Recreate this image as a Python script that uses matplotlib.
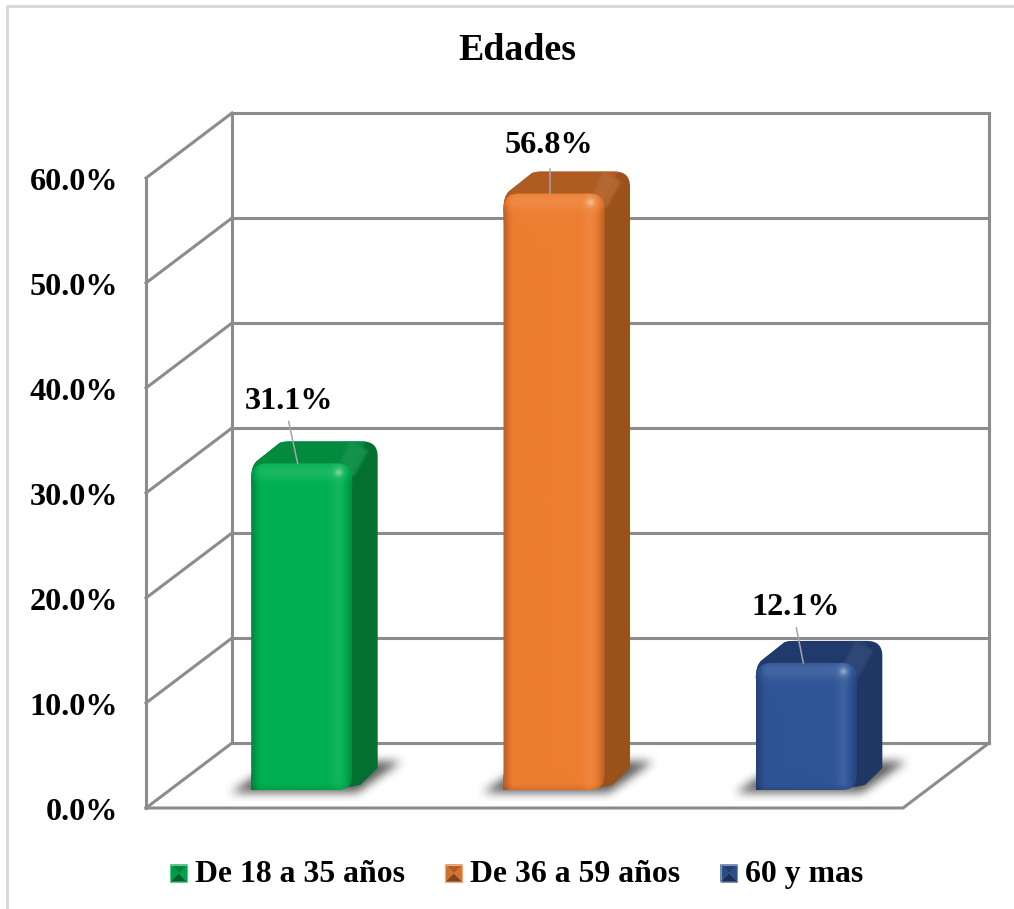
#!/usr/bin/env python3
# -*- coding: utf-8 -*-
from matplotlib import pyplot as plt
from matplotlib.legend_handler import HandlerBase
from matplotlib.lines import Line2D
from matplotlib.patches import FancyBboxPatch, PathPatch, Polygon, Rectangle
from matplotlib.path import Path
from matplotlib.transforms import ScaledTranslation
import numpy as np

title = "Edades"
categories = ["De 18 a 35 años", "De 36 a 59 años", "60 y mas"]
values = [31.1, 56.8, 12.1]
y_ticks = [0, 10, 20, 30, 40, 50, 60]
y_tick_labels = ["0.0%", "10.0%", "20.0%", "30.0%", "40.0%", "50.0%", "60.0%"]

front_cols = ["#00B050", "#ED7D31", "#2F5597"]
side_cols = ["#03702F", "#9A5219", "#1E3764"]
top_cols = ["#028A3E", "#AE5C22", "#203A6B"]

grid_col = "#8C8C8C"
leader_col = "#A6A6A6"
frame_col = "#D9D9D9"

plt.rcParams["font.family"] = ["Liberation Serif", "DejaVu Serif"]
plt.rcParams["font.weight"] = "bold"

W, H = 1014, 909
px = 1/100
PX_PER_UNIT = 10.5  # screen pixels per percentage point, both directions
CAT_STEP = 252.33/PX_PER_UNIT

# 3D box depth in data units
DEPTH_X = 86/PX_PER_UNIT
DEPTH_Y = 65/PX_PER_UNIT
# bar placement inside the box
BAR_W = 101/PX_PER_UNIT
BAR_DX = 25.5/PX_PER_UNIT
BAR_DY = 22/PX_PER_UNIT
BASE_X = 29.5/PX_PER_UNIT
BASE_Y = 18/PX_PER_UNIT
RAD = 15/PX_PER_UNIT

label_offs = [(-13, 65), (-5, 52), (-11, 59)]
leader_ends = [(-4, 21), (-4, 25), (-3, 20)]
leader_lens = [(-13, 42), (-4, 25), (-10, 35)]


def blur(img, size):
    kern = np.ones(size)/size
    for _ in range(3):
        img = np.apply_along_axis(np.convolve, 0, img, kern, mode="same")
        img = np.apply_along_axis(np.convolve, 1, img, kern, mode="same")
    return img


def lighten(col, amt):
    rgb = np.array(plt.matplotlib.colors.to_rgb(col))
    return rgb + (1 - rgb)*amt


def darken(col, amt):
    return np.array(plt.matplotlib.colors.to_rgb(col))*(1 - amt)


def soft_poly(ax, pts, ext, col, strength, size, zorder):
    # polygon with blurred edges as an RGBA image over ext
    nx = int((ext[1] - ext[0])*PX_PER_UNIT)
    ny = int((ext[3] - ext[2])*PX_PER_UNIT)
    gx, gy = np.meshgrid(np.linspace(ext[0], ext[1], nx),
                         np.linspace(ext[2], ext[3], ny))
    mask = Path(pts).contains_points(np.c_[gx.ravel(), gy.ravel()]).reshape(ny, nx)
    rgba = np.zeros((ny, nx, 4))
    rgba[..., :3] = plt.matplotlib.colors.to_rgb(col)
    rgba[..., 3] = blur(mask.astype(float), size)*strength
    img = ax.imshow(rgba, extent=ext, origin="lower", aspect="auto",
                    zorder=zorder, interpolation="bilinear")
    # images fall back to the axes box when the clip box is None
    img.set_clip_box(ax.figure.bbox)
    return img


def draw_shadow(ax, x0, y0):
    # soft contact shadow on the floor, skewed back along the box depth
    ext = (x0 - 6, x0 + BAR_W + BAR_DX + 8, y0 - 5, y0 + BAR_DY + 5)
    pts = [(x0 - 1.9, y0 - 0.3), (x0 + BAR_W + 0.5, y0 - 0.3),
           (x0 + BAR_W + BAR_DX + 2.2, y0 + BAR_DY + 0.5),
           (x0 + BAR_DX, y0 + BAR_DY + 0.5)]
    soft_poly(ax, pts, ext, "#303030", 0.78, 9, 2)


def draw_bar(ax, x0, y0, val, col_f, col_s, col_t):
    y1 = y0 + val
    x1 = x0 + BAR_W
    dx, dy = BAR_DX, BAR_DY
    r = RAD

    # silhouette of the side and top faces
    verts = [(x0, y1 - r), (x0, y1 - 0.3), (x0 + 0.5, y1 + 0.2),
             (x0 + 2.7, y1 + dy - 0.15), (x0 + 3.0, y1 + dy), (x0 + 3.6, y1 + dy),
             (x1 + dx - r, y1 + dy), (x1 + dx, y1 + dy), (x1 + dx, y1 + dy - r),
             (x1 + dx, y0 + dy), (x1 + 0.8, y0 + 0.5), (x1 - r/2, y0), (x0 + r, y0),
             (x0, y1 - r)]
    codes = [Path.MOVETO, Path.CURVE3, Path.CURVE3, Path.LINETO, Path.CURVE3,
             Path.CURVE3, Path.LINETO, Path.CURVE3, Path.CURVE3, Path.LINETO,
             Path.LINETO, Path.CURVE3, Path.CURVE3, Path.CLOSEPOLY]
    back = PathPatch(Path(verts, codes), fc=col_s, ec="none", zorder=3,
                     clip_on=False)
    ax.add_patch(back)

    # top face, clipped to the silhouette, with the lighter rounded corner
    top = Polygon([(x0 - 1, y1 - 2), (x0 - 1, y1 + dy + 1),
                   (x1 + dx - 0.6, y1 + dy + 1), (x1 - 0.3, y1 - 1)],
                  fc=col_t, ec="none", zorder=3.1)
    ax.add_patch(top)
    top.set_clip_box(None)
    top.set_clip_path(back)
    band = soft_poly(ax, [(x1 - 1.4, y1 - 0.4), (x1 + dx - 2.6, y1 + dy + 0.2),
                          (x1 + dx - 0.9, y1 + dy - 0.9), (x1 + 0.1, y1 - 1.4)],
                     (x1 - 4, x1 + dx + 2, y1 - 4, y1 + dy + 2),
                     lighten(col_t, 0.08), 0.9, 3, 3.2)
    band.set_clip_path(back)

    # front face shading: flat middle, bevelled edges, highlight on the corner
    nx, ny = 120, max(int(val*PX_PER_UNIT), 10)
    u = (np.arange(nx) + 0.5)/nx*BAR_W
    v = (np.arange(ny) + 0.5)/ny*val
    uu, vv = np.meshgrid(u, v)
    base = np.array(plt.matplotlib.colors.to_rgb(col_f))
    shade = np.zeros((ny, nx))
    shade -= 0.22*np.exp(-(uu/0.55)**2)
    shade += 0.07*np.exp(-((uu - (BAR_W - 1.4))/0.6)**2)
    shade -= 0.20*np.exp(-((uu - BAR_W)/0.6)**2)
    shade += 0.10*np.exp(-((vv - (val - 0.85))/0.75)**2)
    shade -= 0.10*np.exp(-(vv/0.35)**2)
    shade += 0.30*np.exp(-((uu - (BAR_W - 1.35))**2 + (vv - (val - 0.9))**2)/0.12)
    shade = shade[..., None]
    rgb = np.where(shade > 0, base + (1 - base)*shade, base*(1 + shade))
    im = ax.imshow(np.clip(rgb, 0, 1), extent=(x0, x1, y0, y1), origin="lower",
                   aspect="auto", zorder=4, interpolation="bilinear")
    face = FancyBboxPatch((x0, y0), BAR_W, val, ec="none", fc="none",
                          boxstyle="round,pad=0,rounding_size=%f" % r, zorder=4)
    ax.add_patch(face)
    im.set_clip_path(face)
    # square off the foot of the bar
    foot = Rectangle((x0, y0), BAR_W - r, r, fc="none", ec="none")
    ax.add_patch(foot)
    im2 = ax.imshow(np.clip(rgb, 0, 1), extent=(x0, x1, y0, y1), origin="lower",
                    aspect="auto", zorder=4, interpolation="bilinear")
    im2.set_clip_path(foot)


class BevelHandler(HandlerBase):
    # small pyramid swatch: four shaded triangles around the centre
    def create_artists(self, legend, orig, xd, yd, width, height, fontsize, trans):
        col = orig.get_facecolor()
        s = width
        x0 = 0
        y0 = -yd
        c = (x0 + s/2, y0 + s/2)
        p = [(x0, y0), (x0 + s, y0), (x0 + s, y0 + s), (x0, y0 + s)]
        amts = [darken(col, 0.45), darken(col, 0.08),
                darken(col, 0.25), darken(col, 0.12)]
        arts = []
        for i, shade in enumerate(amts):
            tri = Polygon([p[i], p[(i + 1) % 4], c], fc=shade, ec=shade, lw=0.3,
                          transform=trans)
            arts.append(tri)
        arts.append(Rectangle((x0, y0), s, s, fc="none", ec=lighten(col, 0.35),
                              lw=0.8, transform=trans))
        return arts


fig = plt.figure(figsize=(W*px, H*px), dpi=100)
# only the left and top edges of the chart frame fall inside the canvas
fig.add_artist(Line2D([7/W, 7/W, 1], [0, 1 - 6/H, 1 - 6/H], color=frame_col,
                      lw=2.2, transform=fig.transFigure))

# axes sit on the front plane of the box
ax = fig.add_axes([146/W, 1 - 808/H, 757/W, 630/H])
ax.set_xlim(-CAT_STEP/2, 2.5*CAT_STEP)
ax.set_ylim(0, 60)
ax.patch.set_visible(False)
for s in ax.spines.values():
    s.set_visible(False)
ax.set_xticks([])
ax.set_yticks(y_ticks, y_tick_labels)
ax.tick_params(axis="y", length=0, pad=20, labelsize=23.2)
nudge = ScaledTranslation(0, -1/100, fig.dpi_scale_trans)
for lab in ax.get_yticklabels():
    lab.set_transform(lab.get_transform() + nudge)

x_l, x_r = ax.get_xlim()
grid_kw = dict(color=grid_col, lw=2.2, clip_on=False, zorder=1,
               solid_capstyle="projecting")

# walls and floor
for t in y_ticks:
    ax.plot([x_l + DEPTH_X, x_r + DEPTH_X], [t + DEPTH_Y]*2, **grid_kw)
    ax.plot([x_l, x_l + DEPTH_X], [t, t + DEPTH_Y], **grid_kw)
ax.plot([x_l, x_l], [0, 60], **grid_kw)
ax.plot([x_l + DEPTH_X]*2, [DEPTH_Y, 60 + DEPTH_Y], **grid_kw)
ax.plot([x_r + DEPTH_X]*2, [DEPTH_Y, 60 + DEPTH_Y], **grid_kw)
ax.plot([x_l, x_r, x_r + DEPTH_X], [0, 0, DEPTH_Y], **grid_kw)

for i, val in enumerate(values):
    x0 = i*CAT_STEP - BAR_W/2 + BASE_X
    xc = x0 + BAR_W/2
    draw_shadow(ax, x0, BASE_Y)
    draw_bar(ax, x0, BASE_Y, val, front_cols[i], side_cols[i], top_cols[i])
    y_top = BASE_Y + val
    # leader line from the label down to the bar top
    end = leader_ends[i]
    start = leader_lens[i]
    ax.plot([xc + end[0]/PX_PER_UNIT, xc + start[0]/PX_PER_UNIT],
            [y_top, y_top + start[1]/PX_PER_UNIT],
            color=leader_col, lw=1.1, zorder=5, clip_on=False)
    off = label_offs[i]
    ax.text(xc + off[0]/PX_PER_UNIT, y_top + off[1]/PX_PER_UNIT, "%.1f%%" % val,
            ha="center", va="center_baseline", fontsize=23.2, zorder=6, clip_on=False)

ax.set_xlim(x_l, x_r)
ax.set_ylim(0, 60)

fig.text(517/W, 1 - 51/H, title, ha="center", va="center", fontsize=27.3)

handles = [Rectangle((0, 0), 1, 1, fc=c) for c in front_cols]
leg = fig.legend(handles, categories, loc="center", ncol=3, frameon=False,
                 bbox_to_anchor=(517/W, 1 - 874/H), fontsize=22.9,
                 handler_map={Rectangle: BevelHandler()}, handlelength=0.53,
                 handletextpad=0.25, columnspacing=1.265, borderpad=0)

fig.savefig("out.png", dpi=100)
